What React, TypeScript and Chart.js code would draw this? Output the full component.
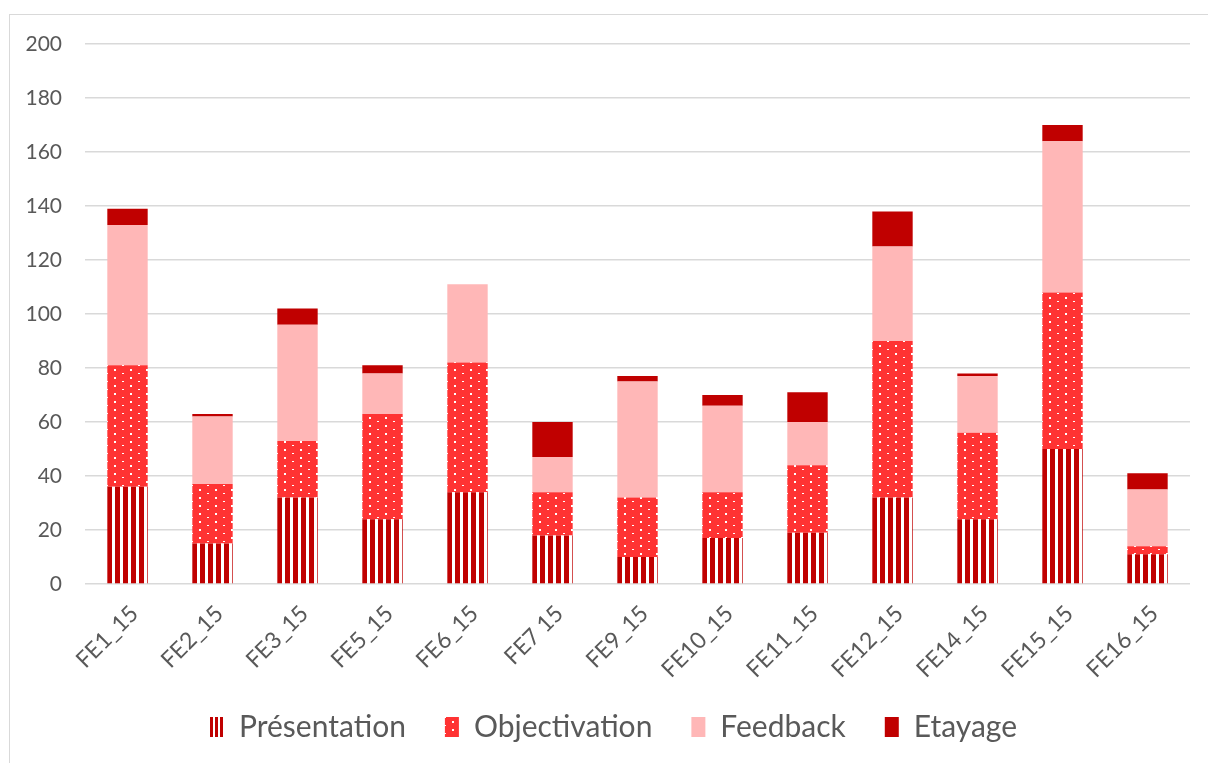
import React, { useEffect, useRef } from "react";
import { Chart, registerables } from "chart.js";

Chart.register(...registerables);

const categories = [
  "FE1_15", "FE2_15", "FE3_15", "FE5_15", "FE6_15", "FE7 15", "FE9_15",
  "FE10_15", "FE11_15", "FE12_15", "FE14_15", "FE15_15", "FE16_15",
];
const presentation = [36, 15, 32, 24, 34, 18, 10, 17, 19, 32, 24, 50, 11];
const objectivation = [45, 22, 21, 39, 48, 16, 22, 17, 25, 58, 32, 58, 3];
const feedback = [52, 25, 43, 15, 29, 13, 43, 32, 16, 35, 21, 56, 21];
const etayage = [6, 1, 6, 3, 0, 13, 2, 4, 11, 13, 1, 6, 6];
const seriesNames = ["Présentation", "Objectivation", "Feedback", "Etayage"];
const yMin = 0;
const yMax = 200;
const yStep = 20;

const DARK_RED = "#C00000";
const RED = "#FF3333";
const PINK = "#FFB7B7";
const TEXT = "#595959";
const GRID = "#D9D9D9";
const FONT = "Lato, 'Open Sans', sans-serif";
const BAR_PCT = 0.475;

function makeTile(w: number, h: number, draw: (g: CanvasRenderingContext2D) => void) {
  const c = document.createElement("canvas");
  c.width = w;
  c.height = h;
  const g = c.getContext("2d")!;
  draw(g);
  return c;
}

const stripeTile = makeTile(8, 8, (g) => {
  g.fillStyle = "#FFFFFF";
  g.fillRect(0, 0, 8, 8);
  g.fillStyle = DARK_RED;
  g.fillRect(0, 0, 5, 8);
});
const legendStripeTile = makeTile(5, 5, (g) => {
  g.fillStyle = "#FFFFFF";
  g.fillRect(0, 0, 5, 5);
  g.fillStyle = DARK_RED;
  g.fillRect(0, 0, 3, 5);
});
const dotTile = makeTile(16, 8, (g) => {
  g.fillStyle = RED;
  g.fillRect(0, 0, 16, 8);
  g.fillStyle = "#FFFFFF";
  g.fillRect(7, 1, 2, 2);
  g.fillRect(15, 5, 2, 1);
  g.fillRect(0, 5, 1, 1);
});

function alignedPattern(tile: HTMLCanvasElement) {
  return (ctx: any) => {
    const chart = ctx.chart;
    const pat = chart.ctx.createPattern(tile, "repeat");
    const xs = chart.scales ? chart.scales.x : null;
    if (pat && xs && typeof ctx.dataIndex === "number" && xs.width > 0) {
      const w = (xs.width / categories.length) * BAR_PCT;
      const left = xs.getPixelForValue(ctx.dataIndex) - w / 2;
      pat.setTransform(new DOMMatrix().translate(Math.round(left), 0));
    }
    return pat;
  };
}

export default function App() {
  const ref = useRef<HTMLCanvasElement>(null);

  useEffect(() => {
    const canvas = ref.current!;
    const c2d = canvas.getContext("2d")!;
    const legendFills: any[] = [
      c2d.createPattern(legendStripeTile, "repeat"),
      c2d.createPattern(dotTile, "repeat"),
      PINK,
      DARK_RED,
    ];

    const legendAlign = {
      id: "legendAlign",
      afterLayout(chart: any) {
        const lg = chart.legend;
        if (lg) {
          lg.left += 11;
          lg.right += 11;
          lg.top -= 11;
          lg.bottom -= 11;
        }
      },
      beforeDraw(chart: any) {
        const lg = chart.legend;
        if (!lg || !lg.legendHitBoxes) return;
        lg.legendHitBoxes.forEach((hb: any, i: number) => {
          const f = legendFills[i];
          if (f && typeof f !== "string" && f.setTransform) {
            f.setTransform(new DOMMatrix().translate(Math.round(hb.left), Math.round(hb.top)));
          }
        });
      },
    };

    const chart = new Chart(canvas, {
      type: "bar",
      data: {
        labels: categories,
        datasets: [
          { label: seriesNames[0], data: presentation, backgroundColor: alignedPattern(stripeTile) as any },
          { label: seriesNames[1], data: objectivation, backgroundColor: alignedPattern(dotTile) as any },
          { label: seriesNames[2], data: feedback, backgroundColor: PINK },
          { label: seriesNames[3], data: etayage, backgroundColor: DARK_RED },
        ].map((d) => ({ ...d, barPercentage: BAR_PCT, categoryPercentage: 1, borderWidth: 0 })),
      },
      options: {
        animation: false,
        responsive: false,
        maintainAspectRatio: false,
        layout: { padding: { left: 15, right: 18, top: 44, bottom: 0 } },
        plugins: {
          tooltip: { enabled: false },
          legend: {
            position: "bottom",
            labels: {
              boxWidth: 14,
              boxHeight: 20,
              padding: 39,
              color: TEXT,
              font: { size: 30, family: FONT },
              generateLabels: () =>
                seriesNames.map((name, i) => ({
                  text: name,
                  fillStyle: legendFills[i],
                  strokeStyle: "rgba(0,0,0,0)",
                  lineWidth: 0,
                  hidden: false,
                  datasetIndex: i,
                  fontColor: TEXT,
                })),
            },
          },
        },
        scales: {
          x: {
            stacked: true,
            grid: { display: false },
            border: { display: false },
            ticks: {
              color: TEXT,
              font: { size: 23, family: FONT },
              minRotation: 45,
              maxRotation: 45,
              autoSkip: false,
              padding: 8,
              labelOffset: 7,
            },
            afterFit: (s: any) => {
              s.height = 100;
            },
          },
          y: {
            stacked: true,
            min: yMin,
            max: yMax,
            ticks: {
              stepSize: yStep,
              color: TEXT,
              font: { size: 21, family: FONT },
              padding: 23,
            },
            grid: { color: GRID, lineWidth: 1.5, drawTicks: false },
            border: { display: false },
            afterFit: (s: any) => {
              s.width = 70;
            },
          },
        },
      },
      plugins: [legendAlign],
    });
    return () => chart.destroy();
  }, []);

  return (
    <div
      style={{
        position: "absolute",
        left: 0,
        top: 0,
        width: 1208,
        height: 763,
        overflow: "hidden",
        background: "#FFFFFF",
      }}
    >
      <div
        style={{
          position: "absolute",
          left: 9,
          top: 14,
          width: 1400,
          height: 1000,
          border: "1.5px solid #D9D9D9",
          boxSizing: "border-box",
        }}
      />
      <canvas
        ref={ref}
        width={1208}
        height={763}
        style={{ position: "absolute", left: 0, top: 0, width: 1208, height: 763 }}
      />
    </div>
  );
}
